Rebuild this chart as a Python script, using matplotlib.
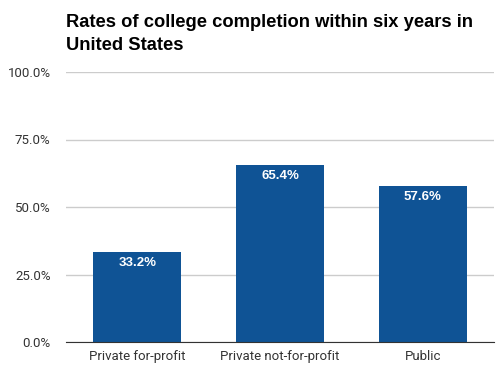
import matplotlib
matplotlib.use("Agg")
import matplotlib.pyplot as plt
from matplotlib.ticker import FuncFormatter

categories = ["Private for-profit", "Private not-for-profit", "Public"]
values = [33.2, 65.4, 57.6]
yticks = [0, 25, 50, 75, 100]

plt.rcParams['font.family'] = ['Roboto', 'Liberation Sans', 'DejaVu Sans']

fig = plt.figure(figsize=(5.04, 3.75), dpi=100)
ax = fig.add_axes([66/504, 1-342/375, 428/504, 270/375])

x = range(len(categories))
bars = ax.bar(x, values, width=0.617, color="#0F5395", zorder=3)
for xi, v in zip(x, values):
    ax.annotate(f"{v:.1f}%", (xi, v), xytext=(0, -3), textcoords="offset points",
                ha="center", va="top", color="white", fontsize=9.5, fontweight="bold",
                family=["Liberation Sans", "DejaVu Sans"])

ax.set_xlim(-0.5, 2.5)
ax.set_ylim(0, 100)
ax.set_yticks(yticks)
ax.yaxis.set_major_formatter(FuncFormatter(lambda v, p: f"{v:.1f}%"))
ax.set_xticks(list(x))
ax.set_xticklabels(categories)
ax.grid(axis="y", color="#CCCCCC", linewidth=1, zorder=0)
for s in ["top", "right", "left"]:
    ax.spines[s].set_visible(False)
ax.spines["bottom"].set_color("#333333")
ax.spines["bottom"].set_zorder(4)
ax.tick_params(axis="both", length=0, labelsize=9.5, colors="#333333")
ax.tick_params(axis="y", pad=11)
ax.tick_params(axis="x", pad=6)

fig.text(66/504, 1-14/375, "Rates of college completion within six years in\nUnited States",
         ha="left", va="top", fontsize=13.2, fontweight="bold",
         family=["Liberation Sans", "DejaVu Sans"], linespacing=1.5)

fig.savefig("out.png", dpi=100)
